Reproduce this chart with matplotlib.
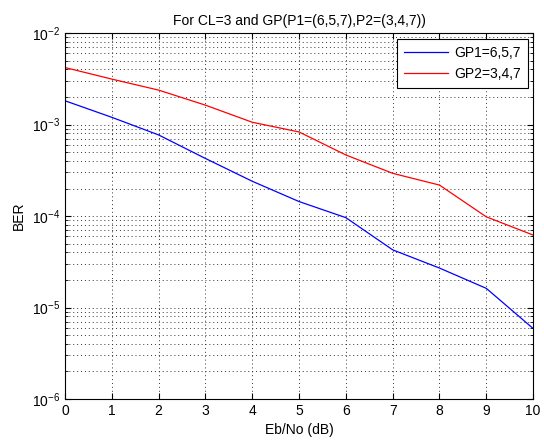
import matplotlib
matplotlib.use('Agg')
import matplotlib.pyplot as plt
import numpy as np

plt.rcParams['font.family'] = ['Liberation Sans', 'DejaVu Sans']
plt.rcParams['mathtext.fontset'] = 'custom'
plt.rcParams['mathtext.rm'] = 'Liberation Sans'
plt.rcParams['mathtext.it'] = 'Liberation Sans'

ebno = [0, 1, 2, 3, 4, 5, 6, 7, 8, 9, 10]
ber_gp1 = [1.82e-3, 1.2e-3, 7.7e-4, 4.26e-4, 2.4e-4, 1.44e-4, 9.6e-5, 4.27e-5, 2.7e-5, 1.62e-5, 5.9e-6]
ber_gp2 = [4.2e-3, 3.14e-3, 2.38e-3, 1.63e-3, 1.06e-3, 8.3e-4, 4.65e-4, 2.93e-4, 2.18e-4, 9.8e-5, 6.2e-5]

fig = plt.figure(figsize=(5.44, 4.41), dpi=100)
ax = fig.add_axes([0.1195, 0.0952, 0.8605, 0.8298])

ax.semilogy(ebno, ber_gp1, color=(0, 0, 1), linewidth=0.9, label='GP1=6,5,7')
ax.semilogy(ebno, ber_gp2, color=(1, 0, 0), linewidth=0.9, label='GP2=3,4,7')

ax.set_xlim(0, 10)
ax.set_ylim(1e-6, 1e-2)
ax.set_xticks(range(0, 11))

dots = (0, (1, 3))
ax.grid(True, which='major', color='#333333', linestyle=dots, linewidth=0.7)
ax.grid(True, which='minor', axis='y', color='#333333', linestyle=dots, linewidth=0.7)
ax.tick_params(which='both', direction='in', top=True, right=True, labelsize=10)
ax.tick_params(which='major', length=4)
ax.tick_params(which='minor', length=2)

ax.set_xlabel('Eb/No (dB)', fontsize=10)
ax.set_ylabel('BER', fontsize=10)
ax.set_title('For CL=3 and GP(P1=(6,5,7),P2=(3,4,7))', fontsize=10)

leg = ax.legend(loc='upper right', fontsize=10, fancybox=False, framealpha=1,
                edgecolor='k', handlelength=3.2, handletextpad=0.4,
                labelspacing=0.55, borderpad=0.5, borderaxespad=0.4)
leg.get_frame().set_linewidth(0.8)

fig.savefig('out.png', dpi=100)
